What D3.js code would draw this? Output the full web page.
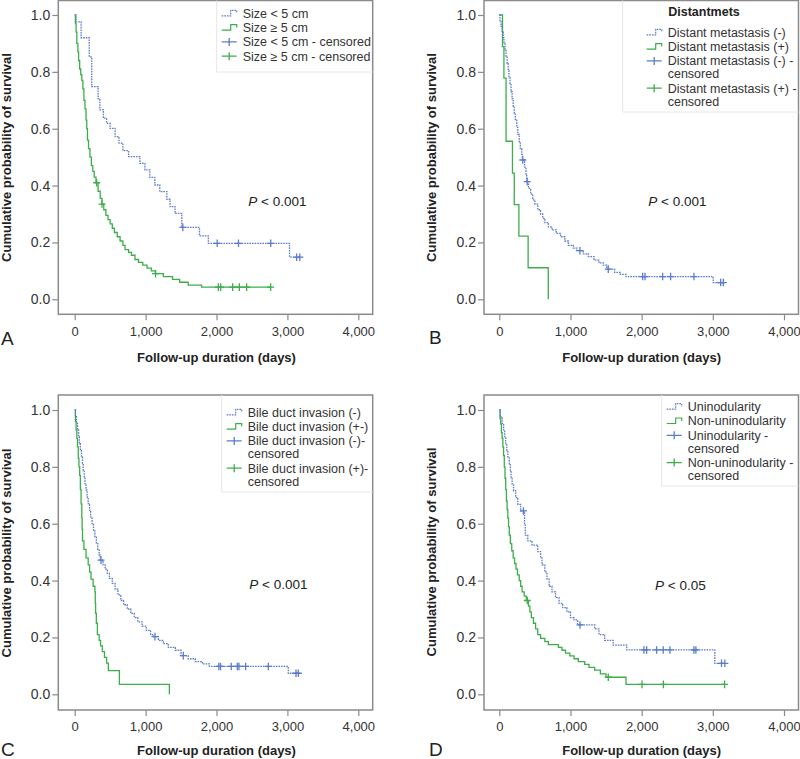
<!DOCTYPE html>
<html><head><meta charset="utf-8">
<script src="https://cdn.jsdelivr.net/npm/d3@7"></script>
<style>
body{margin:0;background:#fff}
text{font-family:Arial,"Liberation Sans",Helvetica,sans-serif}
</style>
</head><body>
<svg id="chart" width="800" height="759"></svg>
<script>
// ---------- shared axis data ----------
const xTicks = [0, 1000, 2000, 3000, 4000];
const yTicks = [0, 0.2, 0.4, 0.6, 0.8, 1.0];
const xTitle = "Follow-up duration (days)";
const yTitle = "Cumulative probability of survival";

// ---------- Panel A : tumour size ----------
const aBlueEvents = [[20,0.976],[90,0.92],[205,0.853],[240,0.748],[330,0.706],[355,0.666],[405,0.637],[450,0.619],[500,0.601],[570,0.572],[625,0.549],[680,0.523],[760,0.502],[920,0.478],[990,0.455],[1060,0.429],[1130,0.402],[1200,0.379],[1300,0.352],[1345,0.326],[1415,0.302],[1510,0.253],[1760,0.223],[1885,0.197],[3030,0.148]];
const aBlueCensor = [1525, 2010, 2310, 2765, 3130, 3175];
const aBlueEnd = 3180;
const aGreenEvents = [[10,0.97],[20,0.94],[30,0.90],[45,0.87],[55,0.84],[70,0.81],[85,0.79],[100,0.77],[115,0.74],[130,0.70],[145,0.67],[160,0.63],[170,0.60],[180,0.56],[195,0.53],[215,0.50],[235,0.47],[255,0.45],[275,0.43],[300,0.41],[330,0.38],[360,0.355],[385,0.335],[410,0.315],[440,0.295],[470,0.28],[500,0.265],[530,0.25],[560,0.235],[600,0.22],[640,0.205],[680,0.19],[710,0.175],[760,0.165],[800,0.155],[850,0.14],[900,0.13],[960,0.12],[1020,0.11],[1080,0.10],[1140,0.09],[1250,0.08],[1380,0.07],[1480,0.06],[1600,0.05],[1790,0.043]];
const aGreenCensor = [310, 385, 1140, 2026, 2059, 2228, 2322, 2425, 2764];
const aGreenEnd = 2764;
const aLegendTitle = "";
const aLegend = [["Size < 5 cm"], ["Size \u2265 5 cm"], ["Size < 5 cm - censored"], ["Size \u2265 5 cm - censored"]];
const aP = "0.001";

// ---------- Panel B : distant metastasis ----------
const bBlueEvents = [[10,0.98],[25,0.96],[40,0.94],[55,0.92],[65,0.90],[80,0.88],[95,0.855],[110,0.83],[125,0.805],[135,0.78],[150,0.755],[165,0.73],[180,0.705],[195,0.68],[210,0.655],[225,0.63],[245,0.605],[260,0.58],[280,0.555],[295,0.53],[315,0.51],[325,0.49],[355,0.465],[375,0.44],[385,0.414],[410,0.39],[440,0.37],[470,0.35],[500,0.335],[540,0.315],[580,0.30],[610,0.285],[640,0.27],[690,0.255],[740,0.244],[800,0.232],[860,0.22],[920,0.205],[970,0.19],[1040,0.18],[1090,0.171],[1180,0.16],[1250,0.15],[1330,0.138],[1400,0.128],[1460,0.12],[1510,0.106],[1620,0.095],[1700,0.088],[1780,0.08],[3005,0.059]];
const bBlueCensor = [330, 392, 1133, 1531, 2014, 2047, 2295, 2407, 2735, 3110, 3147];
const bBlueEnd = 3150;
const bGreenEvents = [[45,0.889],[65,0.778],[95,0.556],[185,0.444],[210,0.333],[275,0.222],[405,0.111],[688,0.0]];
const bGreenCensor = [];
const bGreenEnd = 688;
const bLegendTitle = "Distantmets";
const bLegend = [["Distant metastasis (-)"], ["Distant metastasis (+)"], ["Distant metastasis (-) -", "censored"], ["Distant metastasis (+) -", "censored"]];
const bP = "0.001";

// ---------- Panel C : bile duct invasion ----------
const cBlueEvents = [[10,0.977],[25,0.953],[40,0.93],[55,0.906],[65,0.882],[80,0.858],[95,0.835],[110,0.812],[120,0.788],[135,0.765],[145,0.741],[160,0.718],[175,0.694],[190,0.671],[210,0.647],[225,0.624],[245,0.60],[265,0.578],[285,0.555],[305,0.53],[325,0.51],[345,0.49],[360,0.472],[400,0.455],[430,0.44],[460,0.425],[490,0.408],[530,0.39],[570,0.37],[610,0.35],[650,0.33],[690,0.315],[740,0.30],[790,0.285],[840,0.27],[890,0.255],[950,0.24],[1010,0.225],[1070,0.21],[1110,0.203],[1180,0.19],[1250,0.178],[1320,0.165],[1420,0.155],[1500,0.136],[1600,0.125],[1700,0.115],[1800,0.107],[1900,0.098],[3012,0.074]];
const cBlueCensor = [371, 1132, 1532, 2033, 2057, 2208, 2293, 2317, 2411, 2731, 3121, 3154];
const cBlueEnd = 3160;
const cGreenEvents = [[10,0.96],[20,0.93],[30,0.90],[40,0.87],[50,0.83],[60,0.80],[70,0.77],[80,0.72],[90,0.67],[100,0.62],[105,0.58],[110,0.54],[130,0.51],[160,0.48],[190,0.455],[210,0.43],[230,0.405],[260,0.38],[285,0.36],[290,0.32],[295,0.285],[305,0.25],[320,0.21],[345,0.19],[365,0.17],[390,0.15],[420,0.13],[450,0.11],[475,0.083],[630,0.035],[1335,0.0]];
const cGreenCensor = [];
const cGreenEnd = 1335;
const cLegendTitle = "";
const cLegend = [["Bile duct invasion (-)"], ["Bile duct invasion (+-)"], ["Bile duct invasion (-)-", "censored"], ["Bile duct invasion (+)-", "censored"]];
const cP = "0.001";

// ---------- Panel D : nodularity ----------
const dBlueEvents = [[15,0.976],[40,0.953],[60,0.93],[75,0.906],[90,0.882],[105,0.858],[120,0.835],[140,0.811],[155,0.787],[165,0.763],[180,0.74],[200,0.716],[230,0.692],[260,0.668],[300,0.645],[355,0.60],[365,0.56],[400,0.54],[460,0.525],[540,0.502],[580,0.48],[600,0.455],[640,0.43],[670,0.405],[700,0.38],[740,0.36],[790,0.34],[840,0.32],[890,0.305],[950,0.29],[1000,0.27],[1050,0.262],[1100,0.244],[1340,0.23],[1400,0.21],[1480,0.19],[1600,0.173],[1790,0.156],[3028,0.109]];
const dBlueCensor = [338, 1134, 2032, 2070, 2210, 2303, 2397, 2734, 2762, 3122, 3169];
const dBlueEnd = 3175;
const dGreenEvents = [[10,0.97],[20,0.95],[30,0.92],[40,0.90],[50,0.87],[60,0.84],[70,0.80],[80,0.76],[90,0.72],[100,0.68],[110,0.65],[120,0.62],[130,0.59],[140,0.56],[155,0.53],[175,0.505],[195,0.48],[215,0.46],[235,0.44],[255,0.42],[280,0.40],[300,0.38],[320,0.36],[350,0.345],[380,0.33],[410,0.31],[430,0.29],[450,0.27],[480,0.25],[510,0.23],[540,0.21],[580,0.197],[640,0.185],[690,0.175],[830,0.165],[880,0.155],[930,0.145],[990,0.135],[1050,0.125],[1110,0.115],[1200,0.105],[1260,0.095],[1340,0.085],[1420,0.072],[1500,0.06],[1780,0.035]];
const dGreenCensor = [393, 1531, 2005, 2305, 3165];
const dGreenEnd = 3165;
const dLegendTitle = "";
const dLegend = [["Uninodularity"], ["Non-uninodularity"], ["Uninodularity -", "censored"], ["Non-uninodularity -", "censored"]];
const dP = "0.05";

// ---------- styling / layout ----------
const BLUE = "#5b7bcc", GREEN = "#3dae4a", FRAME = "#8a8a8a", TXT = "#333";

const panels = [
  {letter:"A", blue:[aBlueEvents,aBlueCensor,aBlueEnd], green:[aGreenEvents,aGreenCensor,aGreenEnd], legT:aLegendTitle, leg:aLegend, p:aP,
   fx0:58.3, fx1:372.7, fy0:0.5, fy1:314.3, sx0:74.7, sx1:358.3, sy0:299.3, sy1:15,
   legX:221.7, legY:13.3, legBox:[216.7,0.5,72], pX:248.3, pY:201, yTitleX:11, yTitleY:157.5, xTitleY:361.5, letX:1, letY:345},
  {letter:"B", blue:[bBlueEvents,bBlueCensor,bBlueEnd], green:[bGreenEvents,bGreenCensor,bGreenEnd], legT:bLegendTitle, leg:bLegend, p:bP,
   fx0:484, fx1:798.5, fy0:0.5, fy1:314.3, sx0:499.3, sx1:784, sy0:299.3, sy1:15,
   legX:646.7, legY:32.3, legTitleX:704, legTitleY:11.7, legBox:[622.7,0.5,112], pX:648.3, pY:201, yTitleX:435.5, yTitleY:157.5, xTitleY:361.5, letX:429, letY:344},
  {letter:"C", blue:[cBlueEvents,cBlueCensor,cBlueEnd], green:[cGreenEvents,cGreenCensor,cGreenEnd], legT:cLegendTitle, leg:cLegend, p:cP,
   fx0:58.3, fx1:372.7, fy0:395, fy1:710, sx0:74.7, sx1:358.3, sy0:694.3, sy1:410,
   legX:226.7, legY:412.3, legBox:[221.7,395,492], pX:249.3, pY:584, yTitleX:11, yTitleY:553, xTitleY:755, letX:1, letY:756},
  {letter:"D", blue:[dBlueEvents,dBlueCensor,dBlueEnd], green:[dGreenEvents,dGreenCensor,dGreenEnd], legT:dLegendTitle, leg:dLegend, p:dP,
   fx0:484, fx1:798.5, fy0:395, fy1:710, sx0:499.3, sx1:784, sy0:694.3, sy1:410,
   legX:666.7, legY:406.7, legBox:[661.7,395,486], pX:655, pY:585.7, yTitleX:435.5, yTitleY:552, xTitleY:754.5, letX:429, letY:756}
];

const svg = d3.select("#chart");
svg.append("rect").attr("width",800).attr("height",759).attr("fill","#fff");

function survAt(events, t){
  let s = 1;
  for (const [et, es] of events){ if (et <= t) s = es; else break; }
  return s;
}

panels.forEach(P => {
  const g = svg.append("g");
  const x = d3.scaleLinear().domain([0,4000]).range([P.sx0,P.sx1]);
  const y = d3.scaleLinear().domain([0,1]).range([P.sy0,P.sy1]);

  // frame
  g.append("rect").attr("x",P.fx0).attr("y",P.fy0).attr("width",P.fx1-P.fx0).attr("height",P.fy1-P.fy0)
    .attr("fill","none").attr("stroke",FRAME).attr("stroke-width",1.5);

  // axes
  const xa = g.append("g").attr("transform",`translate(0,${P.fy1})`)
    .call(d3.axisBottom(x).tickValues(xTicks).tickFormat(d3.format(",")).tickSize(6).tickSizeOuter(0));
  const ya = g.append("g").attr("transform",`translate(${P.fx0},0)`)
    .call(d3.axisLeft(y).tickValues(yTicks).tickFormat(d3.format(".1f")).tickSize(6).tickSizeOuter(0));
  [xa,ya].forEach(a=>{
    a.select(".domain").remove();
    a.selectAll(".tick line").attr("stroke",FRAME).attr("stroke-width",1.2);
    a.selectAll(".tick text").attr("fill",TXT).style("font-family","Arial, 'Liberation Sans', sans-serif");
  });
  xa.selectAll(".tick text").attr("dy","0.71em").attr("y",12).style("font-size","13px");
  ya.selectAll(".tick text").attr("x",-8).style("font-size","14px");

  // curves
  const line = d3.line().x(d=>x(d[0])).y(d=>y(d[1])).curve(d3.curveStepAfter);
  const series = [[P.green, GREEN, null],[P.blue, BLUE, "1.6,1"]];
  series.forEach(([ser, col, dash]) => {
    const [events, censor, end] = ser;
    const pts = [[0,1], ...events];
    const last = pts[pts.length-1];
    if (end > last[0]) pts.push([end, last[1]]);
    g.append("path").attr("d",line(pts)).attr("fill","none").attr("stroke",col)
      .attr("stroke-width",1.3).attr("stroke-dasharray",dash);
    g.selectAll(null).data(censor).enter().append("path")
      .attr("d", t => { const cx=x(t), cy=y(survAt(events,t)); return `M${cx-3.5},${cy}H${cx+3.5}M${cx},${cy-3.8}V${cy+3.8}`; })
      .attr("stroke",col).attr("stroke-width",1.3).attr("fill","none");
  });

  // legend box (very faint)
  const [bx, by, bb] = P.legBox;
  g.append("path").attr("d",`M${P.fx1},${bb}H${bx}V${by}`).attr("fill","none").attr("stroke","#e6e6e6").attr("stroke-width",1);

  // legend
  if (P.legT) g.append("text").attr("x",P.legTitleX).attr("y",P.legTitleY).attr("dy","0.35em").attr("text-anchor","middle")
      .attr("font-weight","bold").attr("font-size",12.5).attr("fill","#222").text(P.legT);
  let ly = P.legY;
  P.leg.forEach((lines, i) => {
    const col = (i % 2 === 0) ? BLUE : GREEN;
    const sx = P.legX;
    if (i < 2) {
      g.append("path").attr("d",`M${sx},${ly+2.5}H${sx+9}V${ly-3}H${sx+15}V${ly}`)
        .attr("fill","none").attr("stroke",col).attr("stroke-width",1.2).attr("stroke-dasharray", i===0 ? "1.6,1" : null);
    } else {
      g.append("path").attr("d",`M${sx},${ly}H${sx+15}M${sx+7.5},${ly-4}V${ly+4}`)
        .attr("fill","none").attr("stroke",col).attr("stroke-width",1.3);
    }
    lines.forEach((ln, j) => {
      g.append("text").attr("x",sx+21).attr("y",ly + j*13).attr("dy","0.35em")
        .attr("font-size",12.5).attr("fill",TXT).text(ln);
    });
    ly += 14.3 + (lines.length-1)*13;
  });

  // P value
  const pt = g.append("text").attr("x",P.pX).attr("y",P.pY).attr("dy","0.35em").attr("font-size",13.5).attr("fill","#222");
  pt.append("tspan").attr("font-style","italic").text("P");
  pt.append("tspan").text(" < " + P.p);

  // titles
  g.append("text").attr("x",(P.sx0+P.sx1)/2).attr("y",P.xTitleY).attr("text-anchor","middle")
    .attr("font-weight","bold").attr("font-size",13).attr("fill","#222").text(xTitle);
  g.append("text").attr("transform",`translate(${P.yTitleX},${P.yTitleY}) rotate(-90)`).attr("text-anchor","middle")
    .attr("font-weight","bold").attr("font-size",13).attr("fill","#222").text(yTitle);
  g.append("text").attr("x",P.letX).attr("y",P.letY).attr("font-size",19).attr("fill","#222").text(P.letter);
});
</script>
</body></html>
